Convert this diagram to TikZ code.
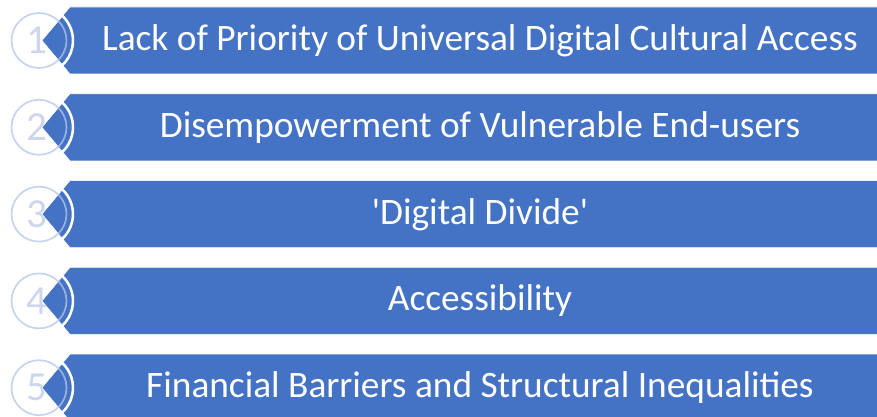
\documentclass[tikz,border=0pt]{standalone}
\usepackage{fontspec}
\setmainfont{Carlito}
\definecolor{barblue}{RGB}{68,114,196}
\definecolor{ringgrey}{RGB}{180,198,231}
\definecolor{digitgrey}{RGB}{204,214,236}
\tikzset{
  bar/.style={fill=barblue, draw=white, line width=0.4pt},
  ring/.style={draw=ringgrey, draw opacity=0.75, line width=1.3pt},
  whitearc/.style={draw=white, line width=1.9pt},
  numlabel/.style={text=digitgrey, font=\fontsize{31}{31}\selectfont, inner sep=0pt},
  barlabel/.style={text=white, font=\fontsize{28}{28}\selectfont, inner sep=0pt, anchor=base}
}
\begin{document}
\begin{tikzpicture}[x=0.75pt,y=-0.75pt]
  \useasboundingbox (0,0) rectangle (877,417);
  \clip (0,0) rectangle (877,417);
  \foreach \k/\txt in {%
      1/{Lack of Priority of Universal Digital Cultural Access},
      2/{Disempowerment of Vulnerable End-users},
      3/{\textquotesingle Digital Divide\textquotesingle},
      4/{Accessibility},
      5/{Financial Barriers and Structural Inequalities}} {
    \pgfmathsetmacro{\top}{7+86.8*(\k-1)}
    \pgfmathsetmacro{\mid}{\top+33.5}
    \pgfmathsetmacro{\bot}{\top+67}
    % number under the chevron point
    \node[numlabel] (num\k) at (37,\mid) {\k};
    % chevron banner
    \path[bar] (70,\top) -- (890,\top) -- (890,\bot) -- (70,\bot) -- (42,\mid) -- cycle;
    % circle outline and white arc
    \path[ring] (39,\mid) circle[radius=27.5];
    \path[whitearc] (39,\mid) ++(-48:34) arc[start angle=-48, end angle=48, radius=34];
    % banner caption
    \node[barlabel] (label\k) at (480,\mid+10) {\txt};
  }
\end{tikzpicture}
\end{document}
